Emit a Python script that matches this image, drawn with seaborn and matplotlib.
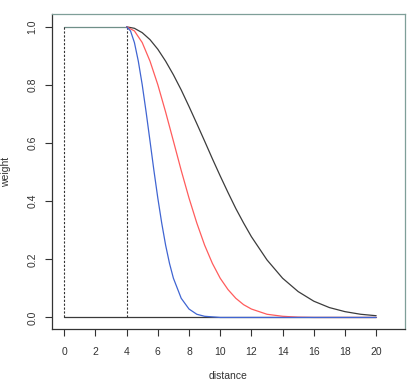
import matplotlib
matplotlib.use("Agg")
import matplotlib.pyplot as plt
import seaborn as sns

# values
blue_dist = [4, 4.25, 4.5, 4.75, 5, 5.25, 5.5, 5.75, 6, 6.25, 6.5, 6.75, 7, 7.5, 8, 8.5, 9, 10, 12, 16, 20]
blue_w = [1, 0.986, 0.946, 0.882, 0.801, 0.707, 0.607, 0.506, 0.411, 0.325, 0.249, 0.186, 0.135,
          0.066, 0.029, 0.011, 0.004, 0.0, 0.0, 0.0, 0.0]

red_dist = [4, 4.5, 5, 5.5, 6, 6.5, 7, 7.5, 8, 8.5, 9, 9.5, 10, 10.5, 11, 11.5, 12, 13, 14, 15, 16, 20]
red_w = [1, 0.986, 0.946, 0.882, 0.801, 0.707, 0.607, 0.506, 0.411, 0.325, 0.249, 0.186, 0.135,
         0.096, 0.066, 0.044, 0.029, 0.011, 0.004, 0.001, 0.0, 0.0]

black_dist = [4, 4.5, 5, 5.5, 6, 6.5, 7, 7.5, 8, 8.5, 9, 9.5, 10, 10.5, 11, 11.5, 12, 13, 14, 15,
              16, 17, 18, 19, 20]
black_w = [1, 0.995, 0.980, 0.956, 0.923, 0.882, 0.835, 0.783, 0.726, 0.667, 0.607, 0.546, 0.487,
           0.430, 0.375, 0.325, 0.278, 0.198, 0.135, 0.089, 0.056, 0.034, 0.020, 0.011, 0.006]

cutoffs = [0, 4]
flat_dist = [0, 4]
flat_w = [1, 1]
zero_dist = [0, 20]
zero_w = [0, 0]

x_ticks = list(range(0, 21, 2))
y_ticks = [0.0, 0.2, 0.4, 0.6, 0.8, 1.0]

sns.set_theme(style="white")
plt.rcParams["font.family"] = ["Liberation Sans", "DejaVu Sans"]

fig = plt.figure(figsize=(4.16, 3.80), dpi=100)
ax = fig.add_axes([0.124, 0.134, 0.850, 0.829])

lw = 0.9
sns.lineplot(x=zero_dist, y=zero_w, color="#3a3a3a", linewidth=lw, ax=ax)
sns.lineplot(x=flat_dist, y=flat_w, color="#6f8f88", linewidth=lw, ax=ax)
ax.vlines(cutoffs, 0, 1, colors="#333333", linestyles=(0, (2, 1.5)), linewidth=0.8)
sns.lineplot(x=black_dist, y=black_w, color="#3c3c3c", linewidth=lw, ax=ax)
sns.lineplot(x=red_dist, y=red_w, color="#ff5c5c", linewidth=lw, ax=ax)
sns.lineplot(x=blue_dist, y=blue_w, color="#4065d2", linewidth=lw, ax=ax)

ax.set_xlim(-0.81, 21.86)
ax.set_ylim(-0.040, 1.044)
ax.set_xticks(x_ticks)
ax.set_yticks(y_ticks)
ax.set_xticklabels([str(t) for t in x_ticks], fontsize=7.5, color="#333333")
ax.set_yticklabels(["%.1f" % t for t in y_ticks], fontsize=7.5, color="#333333",
                   rotation=90, va="center")
ax.tick_params(axis="both", direction="out", length=5, width=0.8, color="#333333",
               bottom=True, left=True)
ax.tick_params(axis="x", pad=8)
ax.tick_params(axis="y", pad=5)

for side in ["left", "bottom"]:
    ax.spines[side].set_color("#333333")
    ax.spines[side].set_linewidth(0.9)
for side in ["top", "right"]:
    ax.spines[side].set_color("#7f9f98")
    ax.spines[side].set_linewidth(0.9)

ax.set_xlabel("distance", fontsize=7.5, color="#333333", labelpad=10)
ax.set_ylabel("weight", fontsize=7.5, color="#333333", labelpad=12)

fig.savefig("out.png", dpi=100)
